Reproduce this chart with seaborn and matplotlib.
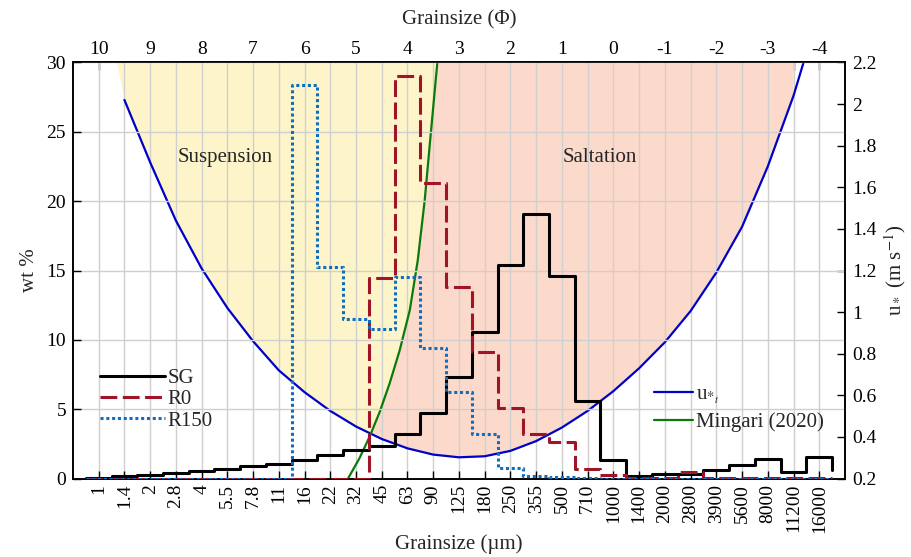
import numpy as np
import matplotlib
matplotlib.use("Agg")
import matplotlib.pyplot as plt
import seaborn as sns
from matplotlib.lines import Line2D
from matplotlib.ticker import FuncFormatter, FixedLocator

# ---------------- data ----------------
sizes = ['1', '1.4', '2', '2.8', '4', '5.5', '7.8', '11', '16', '22', '32', '45', '63',
         '90', '125', '180', '250', '355', '500', '710', '1000', '1400', '2000', '2800',
         '3900', '5600', '8000', '11200', '16000']
phi_ticks = [10, 9, 8, 7, 6, 5, 4, 3, 2, 1, 0, -1, -2, -3, -4]

sg = [0.05, 0.15, 0.28, 0.40, 0.52, 0.68, 0.87, 1.08, 1.36, 1.72, 2.08, 2.32, 3.2,
      4.7, 7.35, 10.6, 15.4, 19.05, 14.6, 5.6, 1.35, 0.15, 0.3, 0.35, 0.6, 0.95,
      1.4, 0.45, 1.55]
r0 = [0, 0, 0, 0, 0, 0, 0, 0, 0, 0, 0, 14.45, 29.0, 21.3, 13.8, 9.15, 5.05, 3.2,
      2.65, 0.7, 0.28, 0.05, 0.05, 0.45, 0.05, 0.05, 0.05, 0.05, 0.05]
r150 = [0, 0, 0, 0, 0, 0, 0, 0, 28.4, 15.25, 11.5, 10.75, 14.55, 9.4, 6.25, 3.22,
        0.73, 0.2, 0.1, 0.05, 0, 0, 0, 0, 0, 0, 0, 0, 0]
# value at the closing bin edge (stairs tail)
sg_tail, r0_tail, r150_tail = 0.65, 0.05, 0.0

ut = [2.6, 2.02, 1.72, 1.44, 1.21, 1.02, 0.86, 0.72, 0.615, 0.525, 0.45, 0.39, 0.345,
      0.315, 0.302, 0.307, 0.333, 0.38, 0.445, 0.525, 0.62, 0.73, 0.855, 1.005, 1.19,
      1.41, 1.70, 2.04, 2.45]

mingari_phi = [5.155, 4.93, 4.735, 4.54, 4.345, 4.15, 3.955, 3.80, 3.665, 3.55, 3.42]
mingari_u = [0.2, 0.299, 0.402, 0.52, 0.659, 0.818, 1.01, 1.25, 1.539, 1.852, 2.2]

# ---------------- style ----------------
sns.set_theme(style="white")
plt.rcParams['font.family'] = ['Liberation Serif', 'DejaVu Serif']
plt.rcParams['mathtext.fontset'] = 'stix'

C_SG = 'black'
C_R0 = '#a01428'
C_R150 = '#0f6ebe'
C_UT = '#0000c8'
C_MG = '#0a7a0a'
C_YEL = '#fdf5c9'
C_PINK = '#fcdacb'
C_GRID = '#cfcfcf'
TFS = 14
LFS = 15

fig = plt.figure(figsize=(9.12, 5.57), dpi=100)
ax_u = fig.add_axes([0.080, 0.1409, 0.8465, 0.7469])
ax_w = ax_u.twinx()

phi = 10 - 0.5 * np.arange(len(sizes))
edges = np.append(phi + 0.25, phi[-1] - 0.25)

# ---------------- fills (u* axis) ----------------
ut_a = np.asarray(ut)
xf = np.linspace(phi[0], phi[27], 4000)
ut_f = np.interp(xf, phi[::-1], ut_a[::-1])
g_f = np.interp(xf, np.asarray(mingari_phi)[::-1], np.asarray(mingari_u)[::-1],
                left=9.0, right=-9.0)
lower_y = np.maximum(ut_f, g_f)
ax_u.fill_between(xf, lower_y, 3.0, where=lower_y < 3.0, color=C_YEL, lw=0, zorder=0.2)
upper_p = np.minimum(g_f, 3.0)
ax_u.fill_between(xf, ut_f, upper_p, where=upper_p > ut_f, color=C_PINK, lw=0, zorder=0.2)

# ---------------- u* curves ----------------
sns.lineplot(x=phi[1:], y=ut_a[1:], ax=ax_u, color=C_UT, lw=1.6, sort=False,
             estimator=None, zorder=3)
sns.lineplot(x=mingari_phi, y=mingari_u, ax=ax_u, color=C_MG, lw=1.6, sort=False,
             estimator=None, zorder=3)

# ---------------- histograms (wt % axis) ----------------
sns.lineplot(x=edges, y=np.append(sg, sg_tail), ax=ax_w, drawstyle='steps-post',
             color=C_SG, lw=2.2, sort=False, estimator=None, zorder=4)
sns.lineplot(x=edges, y=np.append(r0, r0_tail), ax=ax_w, drawstyle='steps-post',
             color=C_R0, lw=2.2, linestyle=(0, (5.5, 1.8)), sort=False,
             estimator=None, zorder=4)
sns.lineplot(x=edges, y=np.append(r150, r150_tail), ax=ax_w, drawstyle='steps-post',
             color=C_R150, lw=2.2, linestyle=(0, (1.0, 0.9)), dash_capstyle='butt',
             sort=False, estimator=None, zorder=4)

# ---------------- axes ----------------
ax_u.set_xlim(10.5, -4.5)
ax_u.set_ylim(0.2, 2.2)
ax_w.set_ylim(0, 30)

ax_u.yaxis.tick_right()
ax_u.yaxis.set_label_position('right')
ax_w.yaxis.tick_left()
ax_w.yaxis.set_label_position('left')

ax_u.set_xticks(phi)
ax_u.set_xticklabels(sizes, rotation=90)
ax_u.set_yticks(np.arange(0.2, 2.21, 0.2))
ax_u.yaxis.set_major_formatter(FuncFormatter(lambda v, p: '%g' % round(v, 2)))
ax_w.set_yticks(np.arange(0, 31, 5))

ax_u.set_axisbelow(True)
ax_u.xaxis.grid(True, color=C_GRID, lw=1.0)
ax_u.yaxis.grid(False)
ax_w.yaxis.grid(True, color=C_GRID, lw=1.0, zorder=0.5)
ax_w.set_axisbelow(True)

for a in (ax_u, ax_w):
    a.tick_params(direction='in', length=6, width=1.0, labelsize=TFS, colors='black',
                  pad=5)
    for s in a.spines.values():
        s.set_color('black')
        s.set_linewidth(1.2)
ax_u.tick_params(axis='x', top=False, bottom=True, pad=4)

sec = ax_u.secondary_xaxis('top')
sec.set_xticks(phi_ticks)
sec.set_xticklabels([str(p) for p in phi_ticks])
sec.xaxis.set_minor_locator(FixedLocator(phi))
sec.tick_params(which='both', direction='in', length=6, width=1.0, labelsize=TFS,
                colors='black', pad=3)
sec.spines['top'].set_linewidth(1.2)
sec.set_xlabel('Grainsize (\u03a6)', fontsize=LFS, labelpad=12)

ax_u.set_xlabel('Grainsize (\u00b5m)', fontsize=LFS)
ax_u.xaxis.set_label_coords(0.5, -0.133)
ax_w.set_ylabel('wt %', fontsize=LFS, labelpad=5)
ax_u.set_ylabel('u$_*$ (m s$^{-1}$)', fontsize=LFS, labelpad=4)

ax_w.text(0.197, 0.772, 'Suspension', transform=ax_w.transAxes, fontsize=15,
          ha='center', va='center')
ax_w.text(0.683, 0.772, 'Saltation', transform=ax_w.transAxes, fontsize=15,
          ha='center', va='center')

# ---------------- legends ----------------
h_left = [Line2D([], [], color=C_SG, lw=2.2),
          Line2D([], [], color=C_R0, lw=2.2, linestyle=(0, (5.5, 1.8))),
          Line2D([], [], color=C_R150, lw=2.2, linestyle=(0, (1.0, 0.9)),
                 dash_capstyle='butt')]
leg1 = ax_w.legend(h_left, ['SG', 'R0', 'R150'], loc='center left',
                   bbox_to_anchor=(0.035, 0.19), frameon=False, fontsize=15,
                   handlelength=3.1, handletextpad=0.15, labelspacing=0.08,
                   borderpad=0, borderaxespad=0)
ax_w.add_artist(leg1)
h_right = [Line2D([], [], color=C_UT, lw=1.6), Line2D([], [], color=C_MG, lw=1.6)]
ax_w.legend(h_right, ['u$_{*_{t}}$', 'Mingari (2020)'], loc='center left',
            bbox_to_anchor=(0.752, 0.168), frameon=False, fontsize=15,
            handlelength=1.9, handletextpad=0.15, labelspacing=0.3,
            borderpad=0, borderaxespad=0)

fig.savefig('out.png', dpi=100)
